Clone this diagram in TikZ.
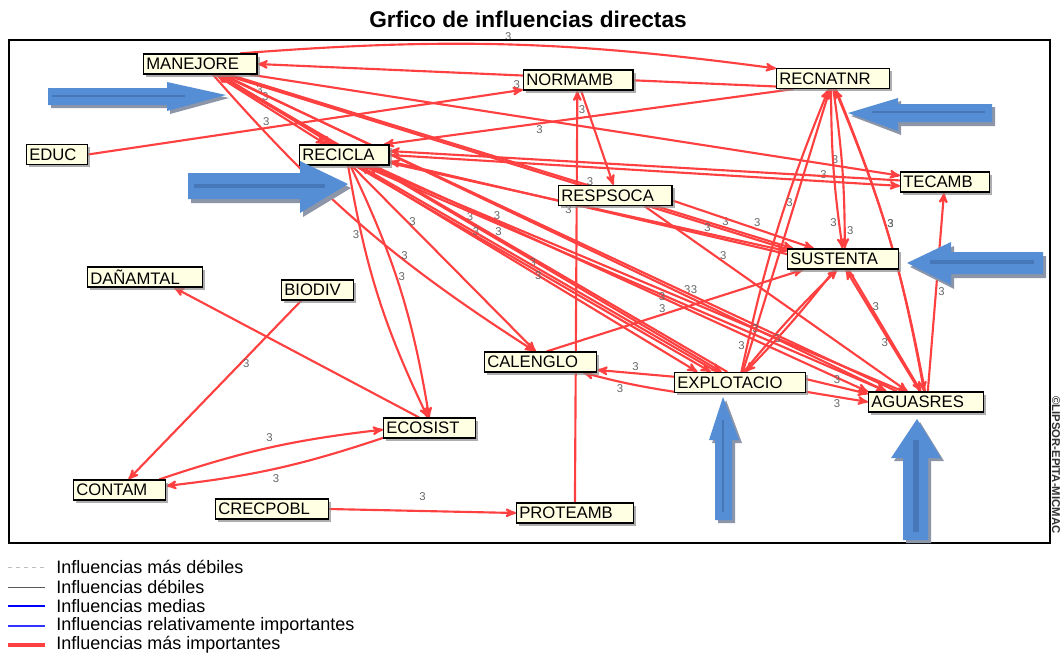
\documentclass[tikz,border=0pt]{standalone}
\usepackage{fontspec}
\setmainfont{Liberation Sans}
\usetikzlibrary{arrows,shadows,backgrounds}
\definecolor{infred}{RGB}{255,64,64}
\definecolor{boxfill}{RGB}{255,255,228}
\definecolor{annblue}{RGB}{85,142,213}
\definecolor{anndark}{RGB}{70,120,185}
\definecolor{annshadow}{RGB}{140,150,168}
\tikzset{
  var/.style={draw=black, line width=0.9pt, fill=boxfill, anchor=west, inner xsep=2pt, inner ysep=1pt,
    minimum height=15pt, text width=#1, align=left, font=\fontsize{12.5}{13}\selectfont,
    drop shadow={shadow xshift=2pt, shadow yshift=-2pt, fill=black!45, opacity=0.7}},
  infl/.style={draw=infred, line width=1.6pt, -stealth'},
  lbl/.style={font=\fontsize{8.5}{9}\selectfont, text=black!60, inner sep=1pt},
  legtext/.style={anchor=west, inner sep=0pt, font=\fontsize{13.5}{14}\selectfont},
}

\begin{document}
\begin{tikzpicture}[x=0.75pt,y=0.75pt,yscale=-1,xscale=1]
\useasboundingbox (0,0) rectangle (1062,653);

% Title
\node (titulo) at (528,19) {\fontsize{17}{18}\selectfont\bfseries Grfico de influencias directas};
%Shape: Rectangle [frame]
\draw [line width=1pt] (9,40) rectangle (1050,543);

% Variables
\node[var=81pt] (manejore) at (143,64) {MANEJORE};
\node[var=78pt] (normamb) at (523,80) {NORMAMB};
\node[var=80.5pt] (recnatnr) at (776,78.5) {RECNATNR};
\node[var=41.5pt] (educ) at (26,154.5) {EDUC};
\node[var=63pt] (recicla) at (299,155) {RECICLA};
\node[var=62.5pt] (tecamb) at (900,182) {TECAMB};
\node[var=81pt] (respsoca) at (558,195.5) {RESPSOCA};
\node[var=82pt] (danamtal) at (87,277) {DAÑAMTAL};
\node[var=50pt] (biodiv) at (281,290) {BIODIV};
\node[var=79pt] (sustenta) at (787,259) {SUSTENTA};
\node[var=80pt] (calenglo) at (484,362) {CALENGLO};
\node[var=94pt] (explotacio) at (674,382.5) {EXPLOTACIO};
\node[var=82pt] (aguasres) at (868,402) {AGUASRES};
\node[var=65pt] (ecosist) at (383,428) {ECOSIST};
\node[var=65pt] (contam) at (73,490) {CONTAM};
\node[var=80.5pt] (crecpobl) at (215,509) {CRECPOBL};
\node[var=83.5pt] (proteamb) at (516,513) {PROTEAMB};

\begin{scope}[on background layer]
% MANEJORE
\draw[infl] (manejore.15) to[bend right=6] node[lbl,pos=0.5,above=1] {3} (recnatnr.170);
\draw[infl] (recnatnr.188) -- node[lbl,pos=0.5,below=2] {3} (manejore.0);
\draw[infl] (manejore.-35) -- node[lbl,pos=0.4,above right] {3} (recicla.150);
\draw[infl] (manejore.-28) -- node[lbl,pos=0.3,above right] {3} (recicla.138);
\draw[infl] (manejore.-12) -- node[lbl,pos=0.9,above] {3} (tecamb.172);
\draw[infl] (manejore.-20) -- node[lbl,pos=0.88,above] {3} (sustenta.168);
\draw[infl] (manejore.-30) -- node[lbl,pos=0.5,above] {3} (explotacio.150);
\draw[infl] (manejore.-25) -- node[lbl,pos=0.7,above] {3} (aguasres.165);
\draw[infl] (manejore.-40) to[bend left=8] node[lbl,pos=0.62,right] {3} (calenglo.118);
\draw[infl] (recicla.130) -- (manejore.-33);
\draw[infl] (sustenta.170) -- node[lbl,pos=0.35,above] {3} (manejore.-24);
\draw[infl] (aguasres.160) -- node[lbl,pos=0.3,above] {3} (manejore.-27);
\draw[infl] (explotacio.140) -- node[lbl,pos=0.45,above] {3} (manejore.-30);
% EDUC
\draw[infl] (educ.east) -- node[lbl,pos=0.41,above] {3} (normamb.190);
% RECNATNR
\draw[infl] (recnatnr.195) -- node[lbl,pos=0.62,below] {3} (recicla.15);
\draw[infl] (recnatnr.-100) to[bend left=4] node[lbl,pos=0.85,left] {3} (sustenta.92);
\draw[infl] (recnatnr.-88) to[bend right=4] node[lbl,pos=0.9,right] {3} (sustenta.80);
\draw[infl] (recnatnr.-75) to[bend right=6] node[lbl,pos=0.45,right] {3} (aguasres.100);
\draw[infl] (explotacio.82) to[bend right=5] node[lbl,pos=0.08,left] {3} (recnatnr.-112);
\draw[infl] (explotacio.75) -- node[lbl,pos=0.6,left] {3} (recnatnr.-106);
\draw[infl] (aguasres.95) to[bend left=6] node[lbl,pos=0.55,right] {3} (recnatnr.-80);
% NORMAMB
\draw[infl] (normamb.-75) -- node[lbl,pos=0.2,left] {3} (respsoca.100);
\draw[infl] (proteamb.north) -- (normamb.-95);
% RECICLA
\draw[infl] (recicla.-70) to[bend left=8] node[lbl,pos=0.25,left] {3} (ecosist.100);
\draw[infl] (recicla.-60) to[bend right=8] node[lbl,pos=0.45,right] {3} (ecosist.92);
\draw[infl] (recicla.-55) -- node[lbl,pos=0.3,right] {3} (calenglo.115);
\draw[infl] (recicla.-45) -- node[lbl,pos=0.5,above] {3} (explotacio.160);
\draw[infl] (recicla.-40) -- node[lbl,pos=0.35,above] {3} (explotacio.166);
\draw[infl] (recicla.-30) -- node[lbl,pos=0.75,above] {3} (aguasres.165);
\draw[infl] (recicla.-20) -- node[lbl,pos=0.25,above] {3} (aguasres.170);
\draw[infl] (recicla.-10) -- node[lbl,pos=0.8,above] {3} (sustenta.172);
\draw[infl] (recicla.0) -- node[lbl,pos=0.85,above] {3} (tecamb.185);
\draw[infl] (tecamb.178) -- (recicla.5);
\draw[infl] (sustenta.175) -- node[lbl,pos=0.55,below] {3} (recicla.-8);
\draw[infl] (aguasres.155) -- node[lbl,pos=0.45,below] {3} (recicla.-25);
\draw[infl] (explotacio.155) -- node[lbl,pos=0.5,below] {3} (recicla.-35);
% RESPSOCA
\draw[infl] (respsoca.-5) -- node[lbl,pos=0.6,above] {3} (sustenta.160);
\draw[infl] (respsoca.-20) -- node[lbl,pos=0.3,above] {3} (aguasres.150);
% SUSTENTA
\draw[infl] (calenglo.60) -- node[lbl,pos=0.45,above] {3} (sustenta.-165);
\draw[infl] (explotacio.70) to[bend right=3] node[lbl,pos=0.3,right] {3} (sustenta.-118);
\draw[infl] (sustenta.-128) to[bend right=3] (explotacio.62);
\draw[infl] (aguasres.120) -- node[lbl,pos=0.4,left] {3} (sustenta.-75);
\draw[infl] (sustenta.-62) -- node[lbl,pos=0.3,right] {3} (aguasres.115);
\draw[infl] (aguasres.80) -- node[lbl,pos=0.5,right] {3} (tecamb.-95);
% EXPLOTACIO
\draw[infl] (explotacio.175) -- node[lbl,pos=0.5,above] {3} (calenglo.-8);
\draw[infl] (explotacio.188) to[bend right=3] node[lbl,pos=0.6,below] {3} (calenglo.-14);
\draw[infl] (explotacio.3) -- node[lbl,pos=0.5,above] {3} (aguasres.172);
\draw[infl] (explotacio.-8) -- node[lbl,pos=0.5,below] {3} (aguasres.180);
% lower left
\draw[infl] (ecosist.135) -- (danamtal.-20);
\draw[infl] (biodiv.-147) -- node[lbl,pos=0.35,right] {3} (contam.50);
\draw[infl] (contam.15) to[bend right=6] node[lbl,pos=0.5,above=3] {3} (ecosist.182);
\draw[infl] (ecosist.192) to[bend right=6] node[lbl,pos=0.5,below=3] {3} (contam.5);
\draw[infl] (crecpobl.east) -- node[lbl,pos=0.5,above=6] {3} (proteamb.west);
\end{scope}

%Shape: Arrow [annotation, MANEJORE]
\fill[annshadow] (51,91) -- (170,91) -- (170,85) -- (229,98) -- (170,114) -- (170,108) -- (51,108) -- cycle;
\fill[annblue] (48,88) -- (167,88) -- (167,82) -- (226,95) -- (167,111) -- (167,105) -- (48,105) -- cycle;
\draw[anndark, line width=1pt] (52,96) -- (185,96);
%Shape: Arrow [annotation, RECICLA]
\fill[annshadow] (191,177) -- (303,177) -- (303,165) -- (351,188) -- (303,217) -- (303,203) -- (191,203) -- cycle;
\fill[annblue] (188,173) -- (300,173) -- (300,161) -- (348,184) -- (300,213) -- (300,199) -- (188,199) -- cycle;
\draw[anndark, line width=3pt] (194,186) -- (325,186);
%Shape: Arrow [annotation, RECNATNR]
\fill[annshadow] (995,107) -- (901,107) -- (901,101) -- (851,116) -- (901,135) -- (901,126) -- (995,126) -- cycle;
\fill[annblue] (992,104) -- (898,104) -- (898,98) -- (848,113) -- (898,131) -- (898,122) -- (992,122) -- cycle;
\draw[anndark, line width=1pt] (985,112) -- (872,112);
%Shape: Arrow [annotation, SUSTENTA]
\fill[annshadow] (1046,256) -- (954,256) -- (954,246) -- (910,267) -- (954,289) -- (954,278) -- (1046,278) -- cycle;
\fill[annblue] (1043,252) -- (951,252) -- (951,242) -- (907,263) -- (951,285) -- (951,274) -- (1043,274) -- cycle;
\draw[anndark, line width=3pt] (1034,262) -- (930,262);
%Shape: Arrow [annotation, EXPLOTACIO]
\fill[annshadow] (718,523) -- (718,443) -- (712,443) -- (726,400) -- (742,443) -- (735,443) -- (735,523) -- cycle;
\fill[annblue] (715,520) -- (715,440) -- (709,440) -- (723,397) -- (739,440) -- (732,440) -- (732,520) -- cycle;
\draw[anndark, line width=0.8pt] (723,512) -- (723,420);
%Shape: Arrow [annotation, AGUASRES]
\fill[annshadow] (906,543) -- (906,461) -- (894,461) -- (920,422) -- (944,461) -- (931,461) -- (931,543) -- cycle;
\fill[annblue] (903,540) -- (903,458) -- (891,458) -- (917,419) -- (941,458) -- (928,458) -- (928,540) -- cycle;
\draw[anndark, line width=4pt] (916,532) -- (916,440);

% Text Node
\node[rotate=-90, anchor=west, inner sep=0pt, font=\fontsize{8.5}{9}\selectfont\bfseries, text=black!80] (firma) at (1056,396) {©LIPSOR-EPITA-MICMAC};

% Legend
\draw[gray!50, dashed, line width=0.6pt] (8,567) -- (45,567);
\node[legtext] (leg1) at (56,567) {Influencias más débiles};
\draw[gray!70!black, line width=0.7pt] (8,587) -- (45,587);
\node[legtext] (leg2) at (56,587) {Influencias débiles};
\draw[blue, line width=0.8pt] (8,606) -- (45,606);
\node[legtext] (leg3) at (56,606) {Influencias medias};
\draw[blue!80, line width=1.8pt] (8,626) -- (45,626);
\node[legtext] (leg4) at (56,626) {Influencias relativamente importantes};
\draw[infred, line width=2.4pt] (8,645) -- (45,645);
\node[legtext] (leg5) at (56,645) {Influencias más importantes};

\end{tikzpicture}
\end{document}
